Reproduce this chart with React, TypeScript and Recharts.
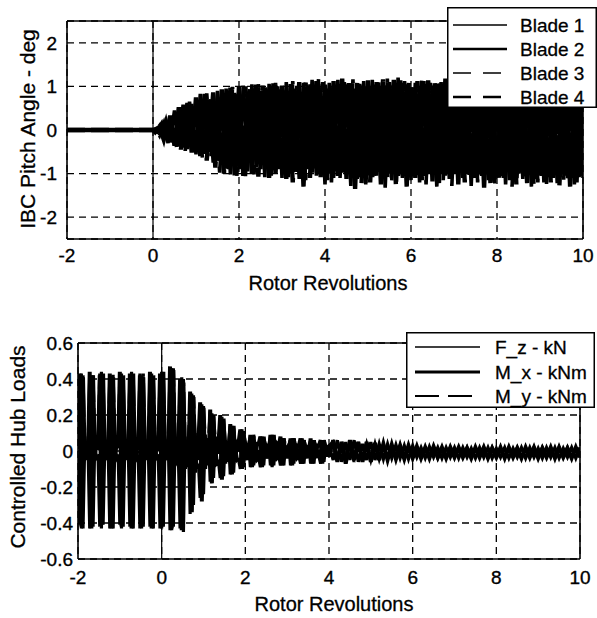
import React from 'react';
import { LineChart, Line, XAxis, YAxis, CartesianGrid, ReferenceLine, Legend } from 'recharts';

const FONT = '"Liberation Sans", Arial, Helvetica, sans-serif';

// ---------- shared axis ticks ----------
const xTicks = [-2, 0, 2, 4, 6, 8, 10];
const topYTicks = [-2, -1, 0, 1, 2];
const botYTicks = [-0.6, -0.4, -0.2, 0, 0.2, 0.4, 0.6];

// ---------- top panel: IBC pitch angle (deg) ----------
const timeTopA = [
  -2, 0,
  0.1, 0.2, 0.3, 0.4, 0.5, 0.6, 0.7, 0.8, 0.9, 1,
  1.1, 1.2, 1.3, 1.4, 1.5, 1.6, 1.7, 1.8, 1.9, 2,
  2.1, 2.2, 2.3, 2.4, 2.5, 2.6, 2.7, 2.8, 2.9, 3,
  3.1, 3.2, 3.3, 3.4, 3.5, 3.6, 3.7, 3.8, 3.9, 4,
  4.1, 4.2, 4.3, 4.4, 4.5, 4.6, 4.7, 4.8, 4.9, 5,
  5.1, 5.2, 5.3, 5.4, 5.5, 5.6, 5.7, 5.8, 5.9, 6,
  6.1, 6.2, 6.3, 6.4, 6.5, 6.6, 6.7, 6.8, 6.9, 7,
  7.1, 7.2, 7.3, 7.4, 7.5, 7.6, 7.7, 7.8, 7.9, 8,
  8.1, 8.2, 8.3, 8.4, 8.5, 8.6, 8.7, 8.8, 8.9, 9,
  9.1, 9.2, 9.3, 9.4, 9.5, 9.6, 9.7, 9.8, 9.9, 10,
];
const timeTopB = [
  -2, 0,
  0.05, 0.15, 0.25, 0.35, 0.45, 0.55, 0.65, 0.75, 0.85, 0.95,
  1.05, 1.15, 1.25, 1.35, 1.45, 1.55, 1.65, 1.75, 1.85, 1.95,
  2.05, 2.15, 2.25, 2.35, 2.45, 2.55, 2.65, 2.75, 2.85, 2.95,
  3.05, 3.15, 3.25, 3.35, 3.45, 3.55, 3.65, 3.75, 3.85, 3.95,
  4.05, 4.15, 4.25, 4.35, 4.45, 4.55, 4.65, 4.75, 4.85, 4.95,
  5.05, 5.15, 5.25, 5.35, 5.45, 5.55, 5.65, 5.75, 5.85, 5.95,
  6.05, 6.15, 6.25, 6.35, 6.45, 6.55, 6.65, 6.75, 6.85, 6.95,
  7.05, 7.15, 7.25, 7.35, 7.45, 7.55, 7.65, 7.75, 7.85, 7.95,
  8.05, 8.15, 8.25, 8.35, 8.45, 8.55, 8.65, 8.75, 8.85, 8.95,
  9.05, 9.15, 9.25, 9.35, 9.45, 9.55, 9.65, 9.75, 9.85, 9.95,
];
const blade1 = [
  0, 0,
  0.05, -0.1, 0.22, -0.25, 0.45, -0.38, 0.58, -0.44, 0.6, -0.56,
  0.83, -0.55, 0.7, -0.75, 0.9, -0.8, 0.95, -1.02, 0.85, -0.9,
  1.02, -0.95, 1.05, -0.85, 0.9, -1.08, 1.06, -0.92, 1.0, -1.1,
  1.1, -1.0, 0.95, -1.12, 1.08, -0.9, 1.15, -1.05, 0.98, -1.25,
  1.08, -1.1, 1.15, -0.98, 1.05, -1.28, 0.95, -1.08, 1.12, -1.0,
  1.15, -1.05, 1.0, -1.32, 1.1, -0.98, 1.2, -1.1, 1.05, -1.15,
  1.08, -1.2, 1.12, -1.0, 1.02, -1.3, 1.1, -1.05, 1.15, -0.98,
  1.05, -1.1, 1.0, -1.28, 1.12, -1.02, 1.08, -1.15, 1.1, -1.05,
  1.1, -1.25, 1.05, -1.0, 1.14, -1.12, 1.0, -1.3, 1.08, -1.05,
  1.12, -1.08, 1.0, -1.22, 1.1, -1.05, 1.08, -1.25, 1.05, -1.1,
];
const blade2 = [
  0, 0,
  -0.04, 0.13, -0.2, 0.33, -0.36, 0.52, -0.4, 0.62, -0.52, 0.75,
  -0.6, 0.83, -0.5, 0.86, -0.7, 0.93, -0.88, 0.97, -1.04, 1.0,
  -1.05, 0.88, -1.0, 1.04, -0.9, 0.98, -1.1, 1.07, -0.85, 1.02,
  -1.12, 1.05, -0.95, 1.1, -1.3, 1.0, -0.98, 1.12, -1.08, 1.04,
  -1.0, 1.12, -1.05, 1.18, -1.12, 0.98, -1.35, 1.06, -0.95, 1.14,
  -1.08, 1.1, -1.25, 1.02, -1.0, 1.15, -1.05, 1.08, -1.3, 0.98,
  -1.1, 1.0, -1.05, 1.14, -1.18, 1.06, -1.0, 1.18, -1.12, 1.08,
  -1.25, 1.1, -1.0, 1.05, -1.1, 1.15, -1.32, 1.02, -1.0, 1.1,
  -1.05, 1.02, -1.15, 1.12, -1.0, 1.08, -1.22, 1.1, -1.1, 1.15,
  -1.2, 1.05, -1.1, 1.15, -1.0, 1.12, -1.3, 1.02, -1.08, 1.1,
];
const blade3 = [
  0, 0,
  0.02, -0.13, 0.15, -0.3, 0.3, -0.41, 0.45, -0.48, 0.65, -0.4,
  0.5, -0.65, 0.84, -0.6, 0.62, -0.98, 0.7, -0.9, 0.99, -1.05,
  0.8, -1.06, 0.95, -1.02, 1.05, -0.8, 0.92, -1.05, 1.08, -0.9,
  0.92, -1.08, 1.12, -0.96, 0.9, -1.15, 1.05, -0.88, 1.18, -1.0,
  0.95, -1.2, 1.0, -1.1, 1.1, -0.95, 1.16, -1.12, 1.02, -1.3,
  1.0, -1.12, 1.12, -0.95, 1.18, -1.2, 0.96, -1.02, 1.12, -1.08,
  0.98, -1.05, 1.16, -1.25, 1.08, -0.96, 1.12, -1.15, 1.0, -1.28,
  1.1, -0.98, 1.12, -1.05, 0.98, -1.2, 1.05, -1.02, 1.15, -1.25,
  1.0, -1.1, 1.1, -1.3, 1.05, -0.98, 1.12, -1.05, 1.02, -1.2,
  1.05, -1.28, 1.12, -1.0, 1.08, -1.15, 1.0, -1.1, 1.12, -1.05,
];
const blade4 = [
  0, 0,
  -0.05, 0.08, -0.22, 0.2, -0.28, 0.4, -0.45, 0.5, -0.3, 0.6,
  -0.45, 0.6, -0.7, 0.7, -0.86, 0.75, -1.0, 0.8, -0.8, 0.85,
  -0.9, 1.0, -0.75, 0.95, -1.07, 1.02, -0.85, 0.9, -1.0, 0.96,
  -0.98, 0.9, -1.2, 1.0, -1.05, 1.09, -1.1, 0.95, -1.02, 1.1,
  -1.15, 0.98, -1.0, 1.05, -0.92, 1.12, -1.05, 1.1, -1.22, 1.0,
  -1.2, 1.04, -0.98, 1.16, -1.1, 1.02, -1.28, 1.14, -0.96, 1.1,
  -1.0, 1.12, -1.15, 1.05, -0.95, 1.1, -1.22, 1.0, -1.05, 1.12,
  -1.02, 1.05, -1.2, 1.1, -1.15, 1.0, -1.05, 1.12, -1.28, 0.98,
  -1.15, 1.12, -1.0, 1.05, -1.25, 1.1, -1.08, 0.98, -1.25, 1.0,
  -1.05, 1.1, -1.2, 1.02, -1.3, 1.0, -1.12, 1.1, -1.2, 1.05,
];

// ---------- bottom panel: controlled hub loads ----------
const timeBot = [
  -2, -1.96, -1.92, -1.88, -1.84, -1.8,
  -1.76, -1.72, -1.68, -1.64, -1.6, -1.56,
  -1.52, -1.48, -1.44, -1.4, -1.36, -1.32,
  -1.28, -1.24, -1.2, -1.16, -1.12, -1.08,
  -1.04, -1, -0.96, -0.92, -0.88, -0.84,
  -0.8, -0.76, -0.72, -0.68, -0.64, -0.6,
  -0.56, -0.52, -0.48, -0.44, -0.4, -0.36,
  -0.32, -0.28, -0.24, -0.2, -0.16, -0.12,
  -0.08, -0.04, 0, 0.04, 0.08, 0.12,
  0.16, 0.2, 0.24, 0.28, 0.32, 0.36,
  0.4, 0.44, 0.48, 0.52, 0.56, 0.6,
  0.64, 0.68, 0.72, 0.76, 0.8, 0.84,
  0.88, 0.92, 0.96, 1, 1.04, 1.08,
  1.12, 1.16, 1.2, 1.24, 1.28, 1.32,
  1.36, 1.4, 1.44, 1.48, 1.52, 1.56,
  1.6, 1.64, 1.68, 1.72, 1.76, 1.8,
  1.84, 1.88, 1.92, 1.96, 2, 2.04,
  2.08, 2.12, 2.16, 2.2, 2.24, 2.28,
  2.32, 2.36, 2.4, 2.44, 2.48, 2.52,
  2.56, 2.6, 2.64, 2.68, 2.72, 2.76,
  2.8, 2.84, 2.88, 2.92, 2.96, 3,
  3.04, 3.08, 3.12, 3.16, 3.2, 3.24,
  3.28, 3.32, 3.36, 3.4, 3.44, 3.48,
  3.52, 3.56, 3.6, 3.64, 3.68, 3.72,
  3.76, 3.8, 3.84, 3.88, 3.92, 3.96,
  4,
  4.1, 4.2, 4.3, 4.4, 4.5, 4.6, 4.7, 4.8, 4.9, 5,
  5.1, 5.2, 5.3, 5.4, 5.5, 5.6, 5.7, 5.8, 5.9, 6,
  6.1, 6.2, 6.3, 6.4, 6.5, 6.6, 6.7, 6.8, 6.9, 7,
  7.1, 7.2, 7.3, 7.4, 7.5, 7.6, 7.7, 7.8, 7.9, 8,
  8.1, 8.2, 8.3, 8.4, 8.5, 8.6, 8.7, 8.8, 8.9, 9,
  9.1, 9.2, 9.3, 9.4, 9.5, 9.6, 9.7, 9.8, 9.9, 10,
];
const fzValues = [
  -0.02, -0.41, 0.43, -0.43, 0.03, -0.05,
  0.02, -0.43, 0.42, -0.42, 0.04, -0.04,
  -0.03, -0.42, 0.44, -0.41, 0.02, -0.05,
  0.02, -0.43, 0.42, -0.43, 0.03, -0.04,
  -0.02, -0.41, 0.43, -0.42, 0.04, -0.05,
  0.03, -0.42, 0.44, -0.43, 0.02, -0.04,
  -0.02, -0.43, 0.42, -0.42, 0.03, -0.05,
  0.02, -0.42, 0.43, -0.43, 0.04, -0.04,
  -0.03, -0.43, 0.44, -0.42, 0.03, -0.05,
  0.03, -0.44, 0.46, -0.42, 0.05, -0.06,
  -0.04, -0.43, 0.41, -0.45, 0.08, -0.09,
  0.06, -0.35, 0.32, -0.3, 0.1, -0.1,
  -0.07, -0.26, 0.26, -0.24, 0.09, -0.08,
  0.07, -0.17, 0.21, -0.15, 0.08, -0.07,
  -0.06, -0.15, 0.19, -0.14, 0.06, -0.06,
  0.05, -0.13, 0.14, -0.12, 0.06, -0.05,
  -0.05, -0.1, 0.12, -0.09, 0.05, -0.05,
  0.04, -0.09, 0.08, -0.08, 0.04, -0.05,
  -0.04, -0.09, 0.08, -0.08, 0.04, -0.04,
  0.04, -0.08, 0.09, -0.08, 0.04, -0.04,
  -0.03, -0.08, 0.07, -0.08, 0.03, -0.04,
  0.04, -0.08, 0.07, -0.07, 0.04, -0.04,
  -0.03, -0.07, 0.07, -0.07, 0.03, -0.04,
  0.03, -0.07, 0.06, -0.07, 0.03, -0.03,
  -0.03, -0.07, 0.06, -0.06, 0.03, -0.03,
  0.03,
  -0.05, 0.06, -0.06, 0.05, -0.05, 0.06, -0.06, 0.04, -0.05, 0.05,
  -0.05, 0.04, -0.045, 0.04, -0.04, 0.035, -0.04, 0.03, -0.045, 0.03,
  -0.035, 0.02, -0.04, 0.025, -0.035, 0.02, -0.04, 0.02, -0.035, 0.02,
  -0.04, 0.02, -0.035, 0.015, -0.04, 0.02, -0.035, 0.02, -0.04, 0.015,
  -0.035, 0.02, -0.04, 0.015, -0.035, 0.02, -0.04, 0.02, -0.035, 0.015,
  -0.04, 0.02, -0.035, 0.02, -0.04, 0.015, -0.035, 0.02, -0.04, 0.02,
];
const mxValues = [
  0.03, 0.43, -0.42, 0.41, -0.04, 0.02,
  -0.03, 0.44, -0.43, 0.42, -0.02, 0.03,
  0.02, 0.42, -0.41, 0.43, -0.05, 0.01,
  -0.02, 0.43, -0.43, 0.41, -0.03, 0.03,
  0.03, 0.44, -0.42, 0.42, -0.04, 0.02,
  -0.01, 0.43, -0.43, 0.43, -0.05, 0.03,
  0.02, 0.42, -0.42, 0.41, -0.03, 0.02,
  -0.03, 0.44, -0.43, 0.42, -0.04, 0.03,
  0.02, 0.43, -0.42, 0.44, -0.05, 0.02,
  -0.02, 0.47, -0.43, 0.45, -0.06, 0.04,
  0.03, 0.4, -0.44, 0.38, -0.1, 0.06,
  -0.05, 0.33, -0.34, 0.3, -0.12, 0.08,
  0.06, 0.27, -0.28, 0.24, -0.1, 0.07,
  -0.07, 0.23, -0.18, 0.2, -0.08, 0.06,
  0.05, 0.2, -0.16, 0.18, -0.07, 0.05,
  -0.06, 0.15, -0.13, 0.14, -0.06, 0.05,
  0.05, 0.12, -0.1, 0.11, -0.05, 0.04,
  -0.04, 0.09, -0.09, 0.08, -0.05, 0.04,
  0.04, 0.08, -0.09, 0.08, -0.04, 0.03,
  -0.04, 0.09, -0.08, 0.09, -0.05, 0.04,
  0.03, 0.08, -0.08, 0.07, -0.04, 0.03,
  -0.04, 0.07, -0.08, 0.07, -0.04, 0.03,
  0.03, 0.07, -0.07, 0.06, -0.04, 0.03,
  -0.03, 0.07, -0.07, 0.06, -0.04, 0.03,
  0.03, 0.06, -0.07, 0.06, -0.03, 0.03,
  -0.03,
  0.06, -0.06, 0.05, -0.07, 0.06, -0.05, 0.05, -0.06, 0.05, -0.06,
  0.045, -0.05, 0.04, -0.05, 0.035, -0.045, 0.03, -0.045, 0.03, -0.04,
  0.025, -0.04, 0.02, -0.04, 0.025, -0.035, 0.02, -0.04, 0.02, -0.035,
  0.02, -0.035, 0.015, -0.04, 0.02, -0.035, 0.02, -0.04, 0.015, -0.035,
  0.02, -0.04, 0.02, -0.035, 0.015, -0.04, 0.02, -0.035, 0.02, -0.04,
  0.015, -0.035, 0.02, -0.04, 0.02, -0.035, 0.015, -0.04, 0.02, -0.035,
];
const myValues = [
  0.01, 0.4, -0.43, 0.42, 0.02, -0.03,
  0.02, 0.41, -0.42, 0.43, 0.01, -0.04,
  -0.01, 0.43, -0.43, 0.4, 0.03, -0.03,
  0.02, 0.41, -0.41, 0.43, 0.02, -0.04,
  0.01, 0.42, -0.43, 0.41, 0.03, -0.03,
  -0.02, 0.4, -0.42, 0.42, 0.01, -0.04,
  0.02, 0.43, -0.43, 0.43, 0.02, -0.03,
  0.01, 0.41, -0.42, 0.41, 0.03, -0.04,
  -0.01, 0.42, -0.43, 0.43, 0.02, -0.03,
  0.02, 0.45, -0.44, 0.46, 0.03, -0.05,
  -0.03, 0.38, -0.42, 0.4, 0.06, -0.08,
  0.05, 0.3, -0.33, 0.31, 0.09, -0.09,
  -0.06, 0.25, -0.27, 0.25, 0.08, -0.07,
  0.06, 0.22, -0.17, 0.19, 0.07, -0.06,
  -0.05, 0.18, -0.15, 0.17, 0.06, -0.05,
  0.05, 0.14, -0.12, 0.13, 0.05, -0.05,
  -0.04, 0.11, -0.1, 0.1, 0.05, -0.04,
  0.04, 0.08, -0.08, 0.09, 0.04, -0.04,
  -0.03, 0.08, -0.08, 0.07, 0.04, -0.04,
  0.03, 0.08, -0.09, 0.08, 0.04, -0.04,
  -0.03, 0.07, -0.07, 0.07, 0.03, -0.03,
  0.03, 0.07, -0.07, 0.07, 0.03, -0.04,
  -0.03, 0.06, -0.07, 0.06, 0.03, -0.03,
  0.03, 0.06, -0.06, 0.06, 0.03, -0.03,
  -0.03, 0.06, -0.06, 0.06, 0.03, -0.03,
  0.03,
  0.05, -0.05, 0.06, -0.05, 0.04, -0.06, 0.05, -0.05, 0.04, -0.05,
  0.04, -0.045, 0.035, -0.04, 0.03, -0.04, 0.03, -0.04, 0.025, -0.04,
  0.02, -0.035, 0.025, -0.03, 0.02, -0.04, 0.015, -0.035, 0.02, -0.03,
  0.015, -0.03, 0.02, -0.035, 0.015, -0.03, 0.02, -0.035, 0.02, -0.03,
  0.015, -0.035, 0.02, -0.03, 0.02, -0.035, 0.015, -0.03, 0.02, -0.035,
  0.02, -0.03, 0.015, -0.035, 0.02, -0.03, 0.02, -0.035, 0.015, -0.03,
];

const rows = (ts: number[], vs: number[]) => ts.map((t, i) => ({ t, v: vs[i] }));

type SeriesSpec = { name: string; data: { t: number; v: number }[]; width: number; dash?: string; legendWidth: number };

const topSeries: SeriesSpec[] = [
  { name: 'Blade 1', data: rows(timeTopA, blade1), width: 3.6, legendWidth: 1.5 },
  { name: 'Blade 2', data: rows(timeTopA, blade2), width: 4.4, legendWidth: 2.6 },
  { name: 'Blade 3', data: rows(timeTopB, blade3), width: 3.6, dash: '18 6', legendWidth: 1.5 },
  { name: 'Blade 4', data: rows(timeTopB, blade4), width: 4.4, dash: '18 6', legendWidth: 2.6 },
];
const botSeries: SeriesSpec[] = [
  { name: 'F_z - kN', data: rows(timeBot, fzValues), width: 3.2, legendWidth: 1.5 },
  { name: 'M_x - kNm', data: rows(timeBot, mxValues), width: 4, legendWidth: 2.8 },
  { name: 'M_y - kNm', data: rows(timeBot, myValues), width: 3.2, dash: '24 6', legendWidth: 1.8 },
];

const tickStyle = { fill: '#000', fontSize: 19, fontFamily: FONT, stroke: '#000', strokeWidth: 0.35 };
const axisLineStyle = { stroke: '#000', strokeWidth: 1.6 };

const makeLegend = (
  items: SeriesSpec[],
  w: number,
  h: number,
  rowYs: number[],
  x1: number,
  x2: number,
  textX: number,
  dashes: (string | undefined)[]
) => () => (
  <svg width={w} height={h} style={{ display: 'block' }}>
    <rect x={0.75} y={0.75} width={w - 1.5} height={h - 1.5} fill="#fff" stroke="#000" strokeWidth={1.5} />
    {items.map((it, i) => (
      <g key={it.name}>
        <line x1={x1} x2={x2} y1={rowYs[i]} y2={rowYs[i]} stroke="#000" strokeWidth={it.legendWidth} strokeDasharray={dashes[i]} />
        <text x={textX} y={rowYs[i]} dominantBaseline="central" fontSize={19} fontFamily={FONT} fill="#000" stroke="#000" strokeWidth={0.3}>
          {it.name}
        </text>
      </g>
    ))}
  </svg>
);

export default function App() {
  return (
    <div style={{ position: 'absolute', left: 0, top: 0, width: 597, height: 618, background: '#fff', fontFamily: FONT }}>
      {/* top panel */}
      <div style={{ position: 'absolute', left: 0, top: 0 }}>
        <LineChart width={597} height={300} margin={{ top: 21, right: 14, left: 0, bottom: 0 }}>
          <CartesianGrid stroke="#000" strokeWidth={1.3} strokeDasharray="7 5" />
          <XAxis
            dataKey="t"
            type="number"
            domain={[-2, 10]}
            ticks={xTicks}
            interval={0}
            allowDataOverflow
            height={61}
            tickLine={false}
            tickSize={0}
            tickMargin={10}
            axisLine={axisLineStyle}
            tick={tickStyle}
          />
          <YAxis
            type="number"
            domain={[-2.5, 2.5]}
            ticks={topYTicks}
            interval={0}
            allowDataOverflow
            width={67}
            tickLine={false}
            tickSize={0}
            tickMargin={10}
            axisLine={axisLineStyle}
            tick={tickStyle}
          />
          <ReferenceLine x={0} stroke="#000" strokeWidth={1.2} />
          <ReferenceLine x={10} stroke="#000" strokeWidth={1.6} />
          <ReferenceLine y={2.5} stroke="#000" strokeWidth={1.6} />
          {topSeries.map((s) => (
            <Line
              key={s.name}
              data={s.data}
              dataKey="v"
              name={s.name}
              type="linear"
              stroke="#000"
              strokeWidth={s.width}
              strokeDasharray={s.dash}
              dot={false}
              activeDot={false}
              isAnimationActive={false}
            />
          ))}
          <Legend
            layout="horizontal"
            verticalAlign="middle"
            align="center"
            content={makeLegend(topSeries, 150, 101, [18, 42, 66, 90], 6, 60, 73, [undefined, undefined, '18 12', '18 12'])}
            wrapperStyle={{ left: 447, top: 7, width: 150, height: 101, bottom: 'auto', right: 'auto' }}
          />
        </LineChart>
      </div>

      {/* bottom panel */}
      <div style={{ position: 'absolute', left: 0, top: 300 }}>
        <LineChart width={597} height={318} margin={{ top: 43, right: 17, left: 0, bottom: 0 }}>
          <CartesianGrid stroke="#000" strokeWidth={1.3} strokeDasharray="7 5" />
          <XAxis
            dataKey="t"
            type="number"
            domain={[-2, 10]}
            ticks={xTicks}
            interval={0}
            allowDataOverflow
            height={59}
            tickLine={false}
            tickSize={0}
            tickMargin={12}
            axisLine={axisLineStyle}
            tick={tickStyle}
          />
          <YAxis
            type="number"
            domain={[-0.6, 0.6]}
            ticks={botYTicks}
            interval={0}
            allowDataOverflow
            width={78}
            tickLine={false}
            tickSize={0}
            tickMargin={5}
            axisLine={axisLineStyle}
            tick={tickStyle}
          />
          <ReferenceLine x={0} stroke="#000" strokeWidth={1.2} />
          <ReferenceLine x={10} stroke="#000" strokeWidth={1.6} />
          <ReferenceLine y={0.6} stroke="#000" strokeWidth={1.6} />
          {botSeries.map((s) => (
            <Line
              key={s.name}
              data={s.data}
              dataKey="v"
              name={s.name}
              type="linear"
              stroke="#000"
              strokeWidth={s.width}
              strokeDasharray={s.dash}
              dot={false}
              activeDot={false}
              isAnimationActive={false}
            />
          ))}
          <Legend
            layout="horizontal"
            verticalAlign="middle"
            align="center"
            content={makeLegend(botSeries, 189, 76, [15, 40, 64], 9, 74, 89, [undefined, undefined, '24 9'])}
            wrapperStyle={{ left: 406, top: 32, width: 189, height: 76, bottom: 'auto', right: 'auto' }}
          />
        </LineChart>
      </div>

      {/* axis titles */}
      <svg width={597} height={618} style={{ position: 'absolute', left: 0, top: 0, pointerEvents: 'none' }}>
        <g fontFamily={FONT} fill="#000" stroke="#000" strokeWidth={0.3}>
          <text x={328} y={290} textAnchor="middle" fontSize={20}>
            Rotor Revolutions
          </text>
          <text x={334} y={611} textAnchor="middle" fontSize={20}>
            Rotor Revolutions
          </text>
          <text transform="translate(35,129) rotate(-90)" textAnchor="middle" fontSize={21}>
            IBC Pitch Angle - deg
          </text>
          <text transform="translate(25,447) rotate(-90)" textAnchor="middle" fontSize={21}>
            Controlled Hub Loads
          </text>
        </g>
      </svg>
    </div>
  );
}
